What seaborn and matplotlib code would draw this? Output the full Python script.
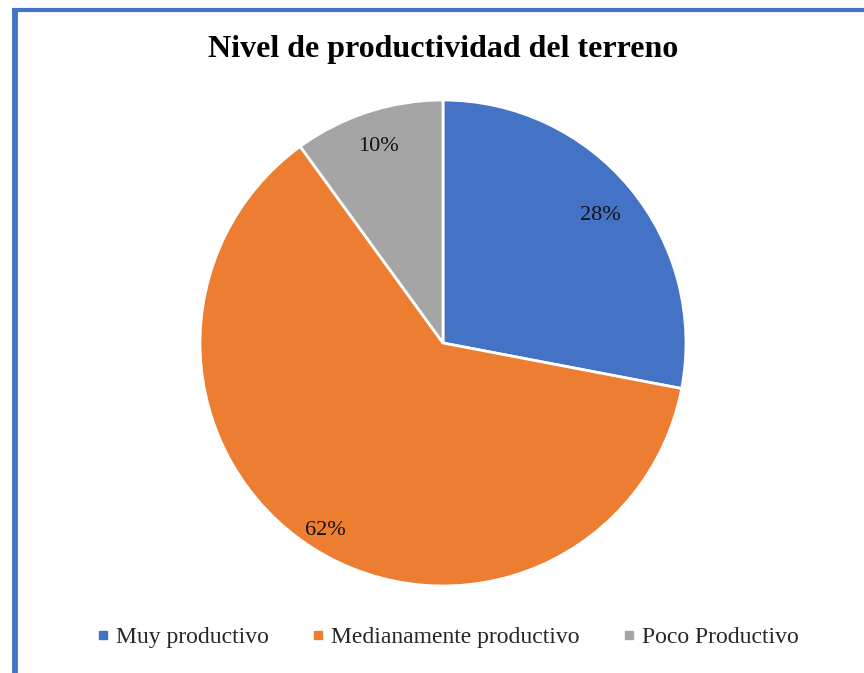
import matplotlib
matplotlib.use("Agg")
import matplotlib.pyplot as plt
from matplotlib.lines import Line2D
import numpy as np
import seaborn as sns

categories = ["Muy productivo", "Medianamente productivo", "Poco Productivo"]
shares = [28, 62, 10]
title = "Nivel de productividad del terreno"

sns.set_theme(style="white")
plt.rcParams["font.family"] = ["Liberation Serif", "DejaVu Serif"]

colors = sns.color_palette(["#4472C4", "#ED7D31", "#A5A5A5"])

W, H = 864, 673
fig = plt.figure(figsize=(W / 100, H / 100), dpi=100)
fig.patch.set_facecolor("white")

# pie axes: centre (443, 343) px, radius 243 px
cx, cy, r = 443, 343, 243
ax = fig.add_axes([(cx - r) / W, (H - cy - r) / H, 2 * r / W, 2 * r / H])
wedges, texts, autotexts = ax.pie(
    shares,
    colors=colors,
    startangle=90,
    counterclock=False,
    autopct=lambda p: f"{p:.0f}%",
    pctdistance=0.87,
    wedgeprops=dict(edgecolor="white", linewidth=2),
    textprops=dict(fontsize=16, color="#111111"),
)
# per-slice radial placement of the percentage labels
label_dist = [0.84, 0.90, 0.86]
for w, t, d in zip(wedges, autotexts, label_dist):
    ang = np.deg2rad((w.theta1 + w.theta2) / 2)
    t.set_position((d * np.cos(ang), d * np.sin(ang)))
    t.set_verticalalignment("center_baseline")

ax.set_xlim(-1, 1)
ax.set_ylim(-1, 1)
ax.set_aspect("equal")
ax.axis("off")

fig.text(cx / W, (H - 50) / H, title, ha="center", va="center",
         fontsize=23, fontweight="bold", color="black")

handles = [Line2D([0], [0], marker="s", linestyle="none", markersize=5.5,
                  markerfacecolor=c, markeredgecolor=c) for c in colors]
fig.legend(handles, categories, loc="center", ncol=3,
           bbox_to_anchor=(448 / W, (H - 637) / H), frameon=False,
           fontsize=17, handlelength=0.5, handletextpad=0.3,
           columnspacing=1.85)

# blue frame on the top and left edges
blue = "#4472C4"
fig.add_artist(Line2D([14.5 / W, 14.5 / W], [0, (H - 8) / H],
                      transform=fig.transFigure, color=blue, linewidth=4.2,
                      solid_capstyle="butt"))
fig.add_artist(Line2D([12 / W, 1], [(H - 9.5) / H, (H - 9.5) / H],
                      transform=fig.transFigure, color=blue, linewidth=3,
                      solid_capstyle="butt"))

fig.savefig("out.png", dpi=100, facecolor="white")
